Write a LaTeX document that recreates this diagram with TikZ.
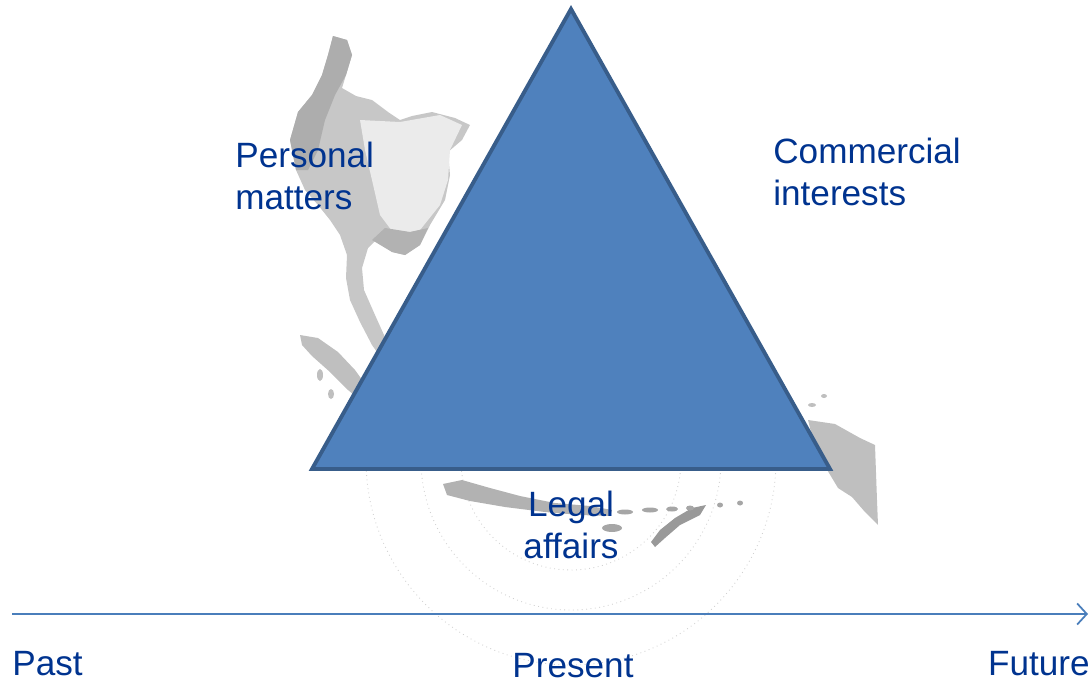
\documentclass[tikz,border=0pt]{standalone}
\usepackage{fontspec}
\setmainfont{Liberation Sans}
\usetikzlibrary{arrows.meta}

\begin{document}
\begin{tikzpicture}[x=0.02cm, y=-0.02cm,
  label/.style={font=\fontsize{20}{24}\selectfont, text=textblue, inner sep=0pt, align=left},
  land/.style={fill=black!#1, draw=none},
  ring/.style={draw=black!18, dotted, line width=0.5pt}]

%─────────────
% Colours
%─────────────
\definecolor{textblue}{HTML}{00338F}   % Label text
\definecolor{triblue}{HTML}{4F81BD}    % Triangle fill
\definecolor{triedge}{HTML}{385D8A}    % Triangle border
\definecolor{lineblue}{HTML}{4A7EBB}   % Time line

\useasboundingbox (0,0) rectangle (1089,683);

%─────────────────────────────────────
% Background map (faint, drawn first)
%─────────────────────────────────────
\foreach \r in {110,150,205} {
  \draw[ring] (571,460) circle (\r);
}

% mainland
\fill[land=22] (333,36) -- (347,40) -- (352,55) -- (346,75) -- (342,88) -- (356,96)
  -- (372,100) -- (388,112) -- (400,120) -- (412,116) -- (432,112) -- (455,118)
  -- (470,125) -- (462,140) -- (448,152) -- (450,175) -- (445,200) -- (430,225)
  -- (420,245) -- (405,255) -- (392,252) -- (378,238) -- (368,248) -- (362,268)
  -- (364,290) -- (375,315) -- (384,335) -- (392,355) -- (384,362) -- (372,345)
  -- (360,322) -- (350,300) -- (346,278) -- (347,255) -- (340,235) -- (330,220)
  -- (318,205) -- (305,190) -- (296,170) -- (290,140) -- (298,112) -- (312,95)
  -- (322,75) -- (328,55) -- cycle;
\fill[land=32] (290,140) -- (298,112) -- (312,95) -- (322,75) -- (328,55) -- (333,36)
  -- (347,40) -- (352,55) -- (346,75) -- (335,95) -- (325,120) -- (318,150)
  -- (308,170) -- (296,170) -- cycle;
\fill[land=8] (360,120) -- (400,122) -- (440,115) -- (462,125) -- (450,150)
  -- (448,180) -- (440,205) -- (420,230) -- (395,235) -- (380,215) -- (372,180)
  -- (365,150) -- cycle;
\fill[land=30] (372,240) -- (392,252) -- (405,255) -- (420,245) -- (428,228)
  -- (410,232) -- (385,228) -- cycle;

% islands
\fill[land=25] (300,335) -- (318,338) -- (338,352) -- (355,370) -- (368,388)
  -- (376,402) -- (365,404) -- (348,390) -- (330,372) -- (312,356) -- (302,345) -- cycle;
\fill[land=25] (320,375) ellipse [x radius=3, y radius=6];
\fill[land=25] (331,394) ellipse [x radius=3, y radius=5];
\fill[land=30] (443,484) -- (462,480) -- (490,488) -- (520,496) -- (555,503)
  -- (590,506) -- (612,510) -- (610,516) -- (580,515) -- (545,512) -- (505,507)
  -- (470,501) -- (447,495) -- cycle;
\fill[land=40] (706,505) -- (700,515) -- (680,525) -- (665,538) -- (655,547)
  -- (651,542) -- (660,530) -- (675,518) -- (692,508) -- cycle;
\fill[land=35] (612,528) ellipse [x radius=10, y radius=4];
\foreach \ix/\iy/\rx in {625/512/8, 650/510/8, 672/509/6, 690/508/4, 720/505/3, 740/503/3} {
  \fill[land=35] (\ix,\iy) ellipse [x radius=\rx, y radius=2.5];
}
\fill[land=25] (808,420) -- (835,424) -- (860,438) -- (875,445) -- (877,500)
  -- (878,525) -- (865,512) -- (852,497) -- (838,488) -- (826,468) -- (815,448) -- cycle;
\fill[land=25] (812,405) ellipse [x radius=4, y radius=2];
\fill[land=25] (824,396) ellipse [x radius=3, y radius=2];

%─────────────
% Triangle
%─────────────
\coordinate (apex) at (571,9);
\coordinate (left) at (312,469);
\coordinate (right) at (830,469);
\filldraw[fill=triblue, draw=triedge, line width=2.2pt]
  (apex) -- (right) -- (left) -- cycle;

%─────────────
% Labels
%─────────────
\node[label, anchor=north west] (personal) at (235,142) {Personal\\matters};
\node[label, anchor=north west] (commercial) at (773,138) {Commercial\\interests};
\node[label, align=center, anchor=north] (legal) at (571,491) {Legal\\affairs};

%─────────────
% Time line
%─────────────
\coordinate (tstart) at (12,614);
\coordinate (tend) at (1088,614);
\draw[lineblue, line width=1.5pt, -{Straight Barb[length=5.5pt, width=12pt, line width=1pt]}]
  (tstart) -- (tend);

\node[label, anchor=base west] (past) at (12,675) {Past};
\node[label, anchor=base] (present) at (573,677) {Present};
\node[label, anchor=base east] (future) at (1090,675) {Future};

\end{tikzpicture}
\end{document}
